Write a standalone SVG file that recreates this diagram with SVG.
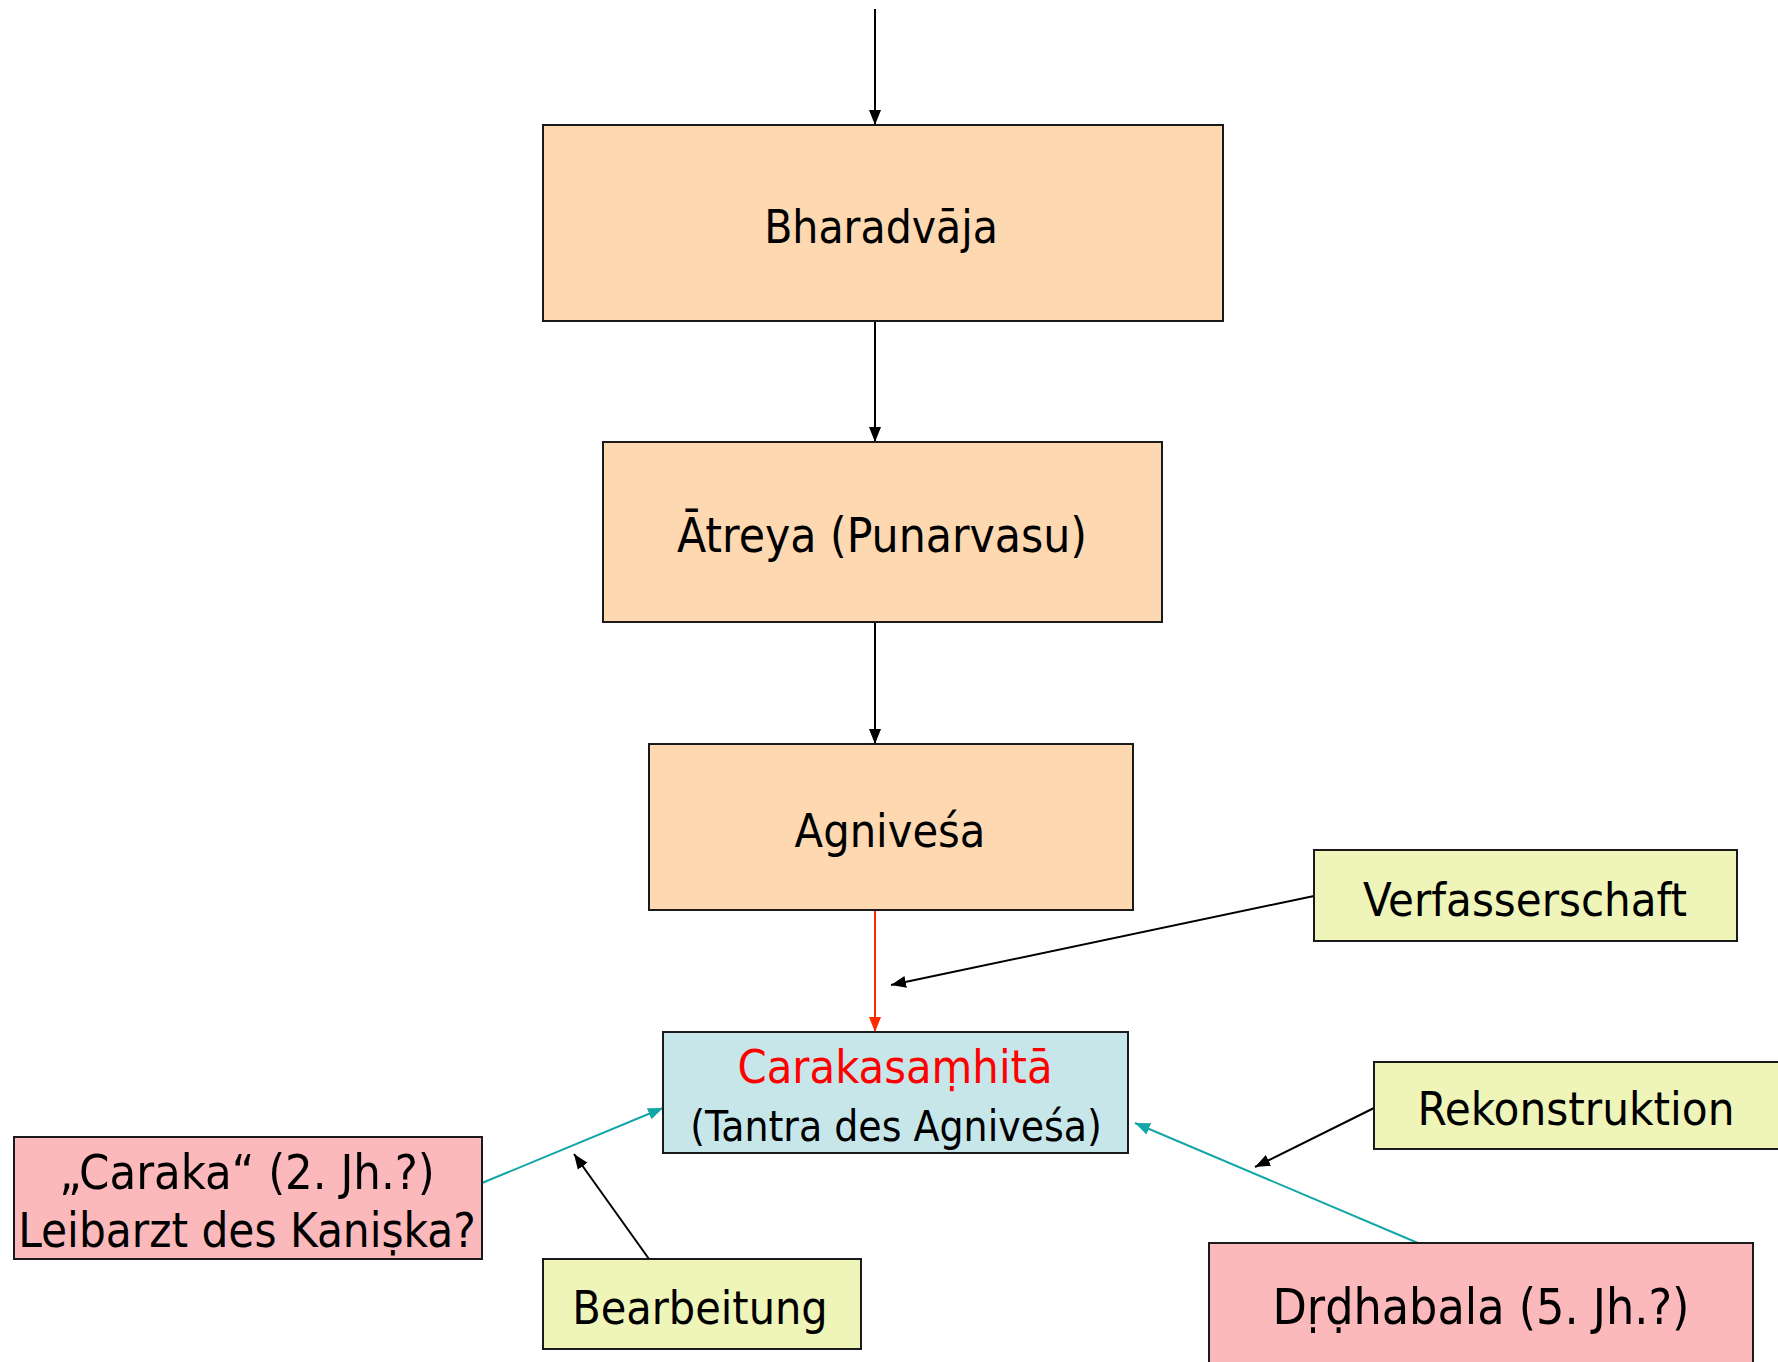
<svg xmlns="http://www.w3.org/2000/svg" width="1778" height="1362" viewBox="0 0 1778 1362">
<style>
  .box { stroke: #1a1a1a; stroke-width: 2; }
  .peach { fill: #FDD8B1; }
  .blue { fill: #C7E6E9; }
  .green { fill: #EFF5B8; }
  .pink { fill: #FBB9BB; }
  text { font-family: "DejaVu Sans Condensed", "DejaVu Sans", sans-serif; font-size: 46px; fill: #000; text-anchor: middle; }
  .red { fill: #FF0000; }
  .conn { fill: none; stroke-width: 2; }
  .k { stroke: #000; }
  .r { stroke: #FF2A00; }
  .t { stroke: #13A6A6; }
</style>
<defs>
  <marker id="ak" markerUnits="userSpaceOnUse" markerWidth="16" markerHeight="14" refX="15" refY="7" orient="auto"><path d="M0,1 L15,7 L0,13 z" fill="#000"/></marker>
  <marker id="ar" markerUnits="userSpaceOnUse" markerWidth="16" markerHeight="14" refX="15" refY="7" orient="auto"><path d="M0,1 L15,7 L0,13 z" fill="#FF2A00"/></marker>
  <marker id="at" markerUnits="userSpaceOnUse" markerWidth="16" markerHeight="14" refX="15" refY="7" orient="auto"><path d="M0,1 L15,7 L0,13 z" fill="#13A6A6"/></marker>
</defs>
<rect width="1778" height="1362" fill="#fff"/>
<g id="connectors">
  <line class="conn k" x1="875" y1="9" x2="875" y2="125" marker-end="url(#ak)"/>
  <line class="conn k" x1="875" y1="321" x2="875" y2="442" marker-end="url(#ak)"/>
  <line class="conn k" x1="875" y1="622" x2="875" y2="744" marker-end="url(#ak)"/>
  <line class="conn r" x1="875" y1="910" x2="875" y2="1032" marker-end="url(#ar)"/>
  <line class="conn k" x1="1314" y1="896" x2="891" y2="985" marker-end="url(#ak)"/>
  <line class="conn k" x1="1374" y1="1108" x2="1255" y2="1167" marker-end="url(#ak)"/>
  <line class="conn t" x1="1418" y1="1243" x2="1135" y2="1123" marker-end="url(#at)"/>
  <line class="conn t" x1="482" y1="1183" x2="663" y2="1108" marker-end="url(#at)"/>
  <line class="conn k" x1="649" y1="1259" x2="574" y2="1154" marker-end="url(#ak)"/>
</g>
<g id="bharadvaja">
  <rect class="box peach" x="543" y="125" width="680" height="196"/>
  <text x="881" y="243" style="font-size:45.7px">Bharadvāja</text>
</g>
<g id="atreya">
  <rect class="box peach" x="603" y="442" width="559" height="180"/>
  <text x="882" y="552" style="font-size:47.5px">Ātreya (Punarvasu)</text>
</g>
<g id="agnivesa">
  <rect class="box peach" x="649" y="744" width="484" height="166"/>
  <text x="890" y="847" style="font-size:46.4px">Agniveśa</text>
</g>
<g id="carakasamhita">
  <rect class="box blue" x="663" y="1032" width="465" height="121"/>
  <text class="red" x="895" y="1083" style="font-size:46.5px">Carakasaṃhitā</text>
  <text x="896" y="1141" style="font-size:42.2px">(Tantra des Agniveśa)</text>
</g>
<g id="verfasserschaft">
  <rect class="box green" x="1314" y="850" width="423" height="91"/>
  <text x="1525" y="916" style="font-size:46.8px">Verfasserschaft</text>
</g>
<g id="rekonstruktion">
  <rect class="box green" x="1374" y="1062" width="410" height="87"/>
  <text x="1576" y="1125" style="font-size:47px">Rekonstruktion</text>
</g>
<g id="drdhabala">
  <rect class="box pink" x="1209" y="1243" width="544" height="130"/>
  <text x="1481" y="1324" style="font-size:49.6px">Dṛḍhabala (5. Jh.?)</text>
</g>
<g id="caraka">
  <rect class="box pink" x="14" y="1137" width="468" height="122"/>
  <text x="247" y="1189" style="font-size:48.4px">„Caraka“ (2. Jh.?)</text>
  <text x="247" y="1247" style="font-size:47.1px">Leibarzt des Kaniṣka?</text>
</g>
<g id="bearbeitung">
  <rect class="box green" x="543" y="1259" width="318" height="90"/>
  <text x="700" y="1324" style="font-size:46.2px">Bearbeitung</text>
</g>
</svg>
